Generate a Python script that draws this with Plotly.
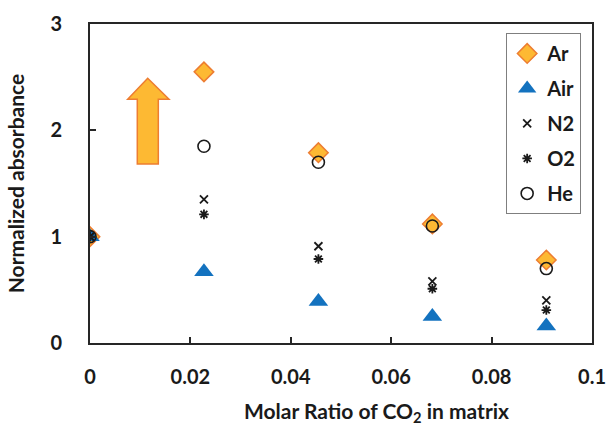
import plotly.graph_objects as go

x_ratio = [0, 0.0227, 0.0455, 0.0682, 0.0909]
ar = [1.0, 2.55, 1.79, 1.12, 0.78]
air = [1.0, 0.67, 0.39, 0.25, 0.16]
n2 = [1.0, 1.35, 0.91, 0.58, 0.40]
o2 = [1.0, 1.21, 0.79, 0.51, 0.31]
he = [1.0, 1.85, 1.70, 1.10, 0.70]

x_ticks = [0, 0.02, 0.04, 0.06, 0.08, 0.1]
x_ticklabels = ["0", "0.02", "0.04", "0.06", "0.08", "0.1"]
y_ticks = [0, 1, 2, 3]

# decorative arrow (data coordinates)
arrow_x = [0.01149, 0.01574, 0.01361, 0.01361, 0.00942, 0.00942, 0.00751]
arrow_y = [2.490, 2.293, 2.293, 1.683, 1.683, 2.293, 2.293]

FONT = "Lato"
TXT = "#1a1a1a"
FS = 20
FT = 21

fig = go.Figure()
fig.add_trace(go.Scatter(x=x_ratio, y=ar, mode="markers", name="<b>Ar</b>", legendgroup="a",
                         marker=dict(symbol="diamond", size=15, color="#FDB933",
                                     line=dict(color="#ED7D31", width=1.5))))
fig.add_trace(go.Scatter(x=x_ratio, y=air, mode="markers", name="<b>Air</b>", legendgroup="b",
                         marker=dict(symbol="triangle-up", size=17, color="#1372BF",
                                     line=dict(color="#1372BF", width=0))))
fig.add_trace(go.Scatter(x=x_ratio, y=n2, mode="markers", name="<b>N2</b>", legendgroup="c",
                         marker=dict(symbol="x-thin", size=8, color="#1a1a1a",
                                     line=dict(color="#1a1a1a", width=1.8))))
fig.add_trace(go.Scatter(x=x_ratio, y=o2, mode="markers", name="<b>O2</b>", legendgroup="d",
                         marker=dict(symbol="asterisk", size=8, color="#1a1a1a",
                                     line=dict(color="#1a1a1a", width=1.8))))
fig.add_trace(go.Scatter(x=x_ratio, y=he, mode="markers", name="<b>He</b>", legendgroup="e",
                         marker=dict(symbol="circle-open", size=12, color="#1a1a1a",
                                     line=dict(color="#1a1a1a", width=1.6))))

path = "M " + " L ".join(f"{a},{b}" for a, b in zip(arrow_x, arrow_y)) + " Z"
fig.add_shape(type="path", path=path, xref="x", yref="y",
              fillcolor="#FDB933", line=dict(color="#ED7D31", width=1.5), layer="above")

axis_common = dict(showgrid=False, zeroline=False, showline=True, linecolor="#262626",
                   linewidth=2, mirror=True, ticks="inside", ticklen=6, tickwidth=1.5,
                   tickcolor="#262626", automargin=False,
                   tickfont=dict(family=FONT, size=FS, color=TXT))

fig.update_xaxes(range=[0, 0.1], tickvals=x_ticks, ticktext=[f"<b>{t}</b>" for t in x_ticklabels],
                 ticklabelstandoff=15, **axis_common)
fig.update_yaxes(range=[0, 3], tickvals=y_ticks, ticktext=[f"<b>{t}</b>" for t in y_ticks],
                 ticklabelstandoff=22,
                 title=dict(text="<b>Normalized absorbance</b>", standoff=20,
                            font=dict(family=FONT, size=FT, color=TXT)),
                 **axis_common)

fig.add_annotation(text="<b>Molar Ratio of CO<sub>2</sub> in matrix</b>", xref="paper", yref="paper",
                   x=0.57, y=-0.215, xanchor="center", yanchor="middle", showarrow=False,
                   font=dict(family=FONT, size=FT, color=TXT))

fig.update_layout(
    width=608, height=426,
    margin=dict(l=90, r=16, t=24, b=83),
    plot_bgcolor="white", paper_bgcolor="white",
    font=dict(family=FONT, size=FS, color=TXT),
    showlegend=True,
    legend=dict(x=0.829, y=0.972, xanchor="left", yanchor="top",
                bordercolor="#7f7f7f", borderwidth=1, bgcolor="white",
                tracegroupgap=6, traceorder="grouped",
                font=dict(family=FONT, size=FS, color=TXT), itemwidth=30),
)

fig.write_html("out.html", config={"displayModeBar": False},
               post_script="document.body.style.margin='0';document.body.style.overflow='hidden';")
